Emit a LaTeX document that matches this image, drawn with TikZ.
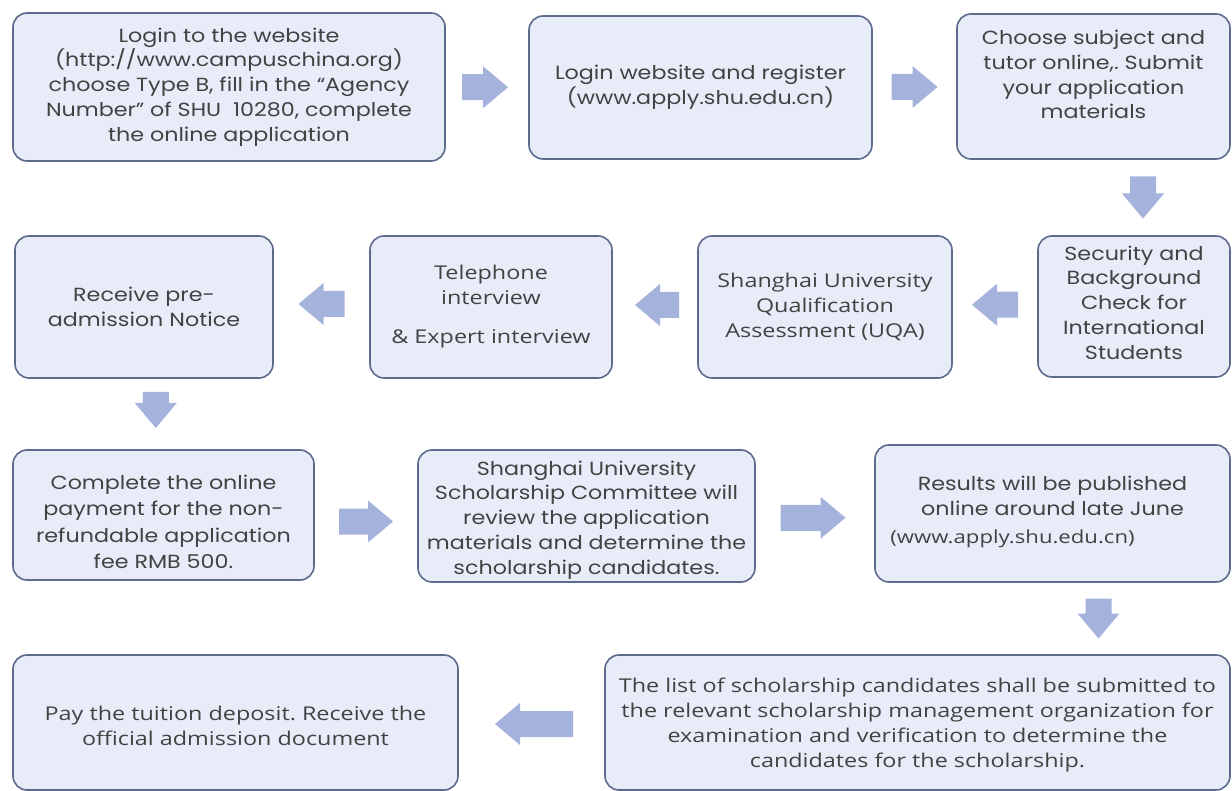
\documentclass[tikz,border=0pt]{standalone}
\usepackage{fontspec}
\setmainfont{Poppins}[FakeStretch=1.17]
\newfontfamily\yh{Open Sans}[FakeStretch=1.23]
\usetikzlibrary{calc}
\frenchspacing
\definecolor{boxfill}{RGB}{232,236,248}
\definecolor{boxdraw}{RGB}{92,106,140}
\definecolor{arr}{RGB}{165,178,220}
\definecolor{txt}{RGB}{66,66,66}
\tikzset{
  box/.style={draw=boxdraw, fill=boxfill, line width=1.6pt, rounded corners=14pt,
    align=center, text=txt, inner sep=0pt},
  gt/.style={font=\fontsize{19}{24.8}\selectfont, text=txt, align=center},
  yt/.style={font=\yh\fontsize{19}{25}\selectfont, text=txt, align=center}
}
% block arrow: centre coordinate, rotation, length
\newcommand\blkarr[3]{\fill[arr, shift={(#1)}, rotate=#2]
  ({-#3/2},-13) -- ({#3/2-25},-13) -- ({#3/2-25},-21) -- ({#3/2},0)
  -- ({#3/2-25},21) -- ({#3/2-25},13) -- ({-#3/2},13) -- cycle;}
\begin{document}
\begin{tikzpicture}[x=1pt,y=-1pt]
\useasboundingbox (0,0) rectangle (1232,791);
\fill[white] (0,0) rectangle (1232,791);

% row 1
\node[box, gt, minimum width=432pt, minimum height=148pt] (b1) at (229,87)
  {Login to the website\\(http://www.campuschina.org)\\choose Type B, fill in the ``Agency\\Number'' of SHU\ \ 10280, complete\\the online application};
\node[box, gt, minimum width=343pt, minimum height=143pt] (b2) at (700.5,87.5)
  {Login website and register\\(www.apply.shu.edu.cn)};
\node[box, minimum width=273pt, minimum height=145pt] (b3) at (1093.5,86.5) {};
\node[gt] (b3t) at ($(b3)+(0,-12)$) {Choose subject and\\tutor online,. Submit\\your application\\materials};

% row 2
\node[box, minimum width=192pt, minimum height=141pt] (sec) at (1134,306.5) {};
\node[gt] (sect) at ($(sec)+(0,-4)$) {Security and\\Background\\Check for\\International\\Students};
\node[box, yt, minimum width=254pt, minimum height=142pt] (uqa) at (825,307)
  {Shanghai University\\Qualification\\Assessment (UQA)};
\node[box, yt, minimum width=242pt, minimum height=142pt] (tel) at (491,307)
  {Telephone\\interview\\[14pt]\& Expert interview};
\node[box, gt, minimum width=258pt, minimum height=142pt] (rec) at (144,307)
  {Receive pre-\\admission Notice};

% row 3
\node[box, minimum width=301pt, minimum height=130pt] (comp) at (163.5,515) {};
\node[gt, font=\fontsize{19}{26.3}\selectfont] (compt) at ($(comp)+(0,7)$)
  {Complete the online\\payment for the non-\\refundable application\\fee RMB 500.};
\node[box, minimum width=337pt, minimum height=132pt] (comm) at (586.5,516) {};
\node[gt] (commt) at ($(comm)+(0,4)$)
  {Shanghai University\\Scholarship Committee will\\review the application\\materials and determine the\\scholarship candidates.};
\node[box, minimum width=355pt, minimum height=137pt] (res) at (1052.5,513.5) {};
\node[gt] (rest) at ($(res)+(0,-18)$) {Results will be published\\online around late June};
\node[yt, font=\yh\fontsize{18}{22}\selectfont] (resu) at ($(res)+(-40,25)$) {(www.apply.shu.edu.cn)};

% row 4
\node[box, minimum width=445pt, minimum height=135pt] (pay) at (235.5,722.5) {};
\node[yt] (payt) at ($(pay)+(0,3)$) {Pay the tuition deposit. Receive the\\official admission document};
\node[box, minimum width=625pt, minimum height=135pt] (list) at (917.5,722.5) {};
\node[yt] (listt) at ($(list)+(0,3)$)
  {The list of scholarship candidates shall be submitted to\\the relevant scholarship management organization for\\examination and verification to determine the\\candidates for the scholarship.};

% block arrow positions, between the boxes they join
\coordinate (a1) at ($(b1.east)!0.5!(b2.west)+(-2,0)$);
\coordinate (a2) at ($(b2.east)!0.5!(b3.west)$);
\coordinate (a3) at ($(sec.north)!0.5!(sec.north|-b3.south)+(9,0)$);
\coordinate (a4) at ($(uqa.east)!0.5!(sec.west)+(0,-2)$);
\coordinate (a5) at ($(tel.east)!0.5!(uqa.west)+(2,-2)$);
\coordinate (a6) at ($(rec.east)!0.5!(tel.west)+(0,-3)$);
\coordinate (a7) at ($(rec.south)!0.5!(comp.north)+(2,-4)$);
\coordinate (a8) at ($(comp.east)!0.5!(comm.west)+(0,6)$);
\coordinate (a9) at ($(comm.east)!0.5!(res.west)+(-2,3)$);
\coordinate (a10) at ($(res.south)!0.5!(res.south|-list.north)+(46,0)$);
\coordinate (a11) at ($(pay.east)!0.5!(list.west)+(2.5,1.5)$);

\blkarr{a1}{0}{46}
\blkarr{a2}{0}{46}
\blkarr{a3}{-90}{42}
\blkarr{a4}{180}{46}
\blkarr{a5}{180}{44}
\blkarr{a6}{180}{46}
\blkarr{a7}{-90}{36}
\blkarr{a8}{0}{54}
\blkarr{a9}{0}{65}
\blkarr{a10}{-90}{40}
\blkarr{a11}{180}{78}
\end{tikzpicture}
\end{document}
